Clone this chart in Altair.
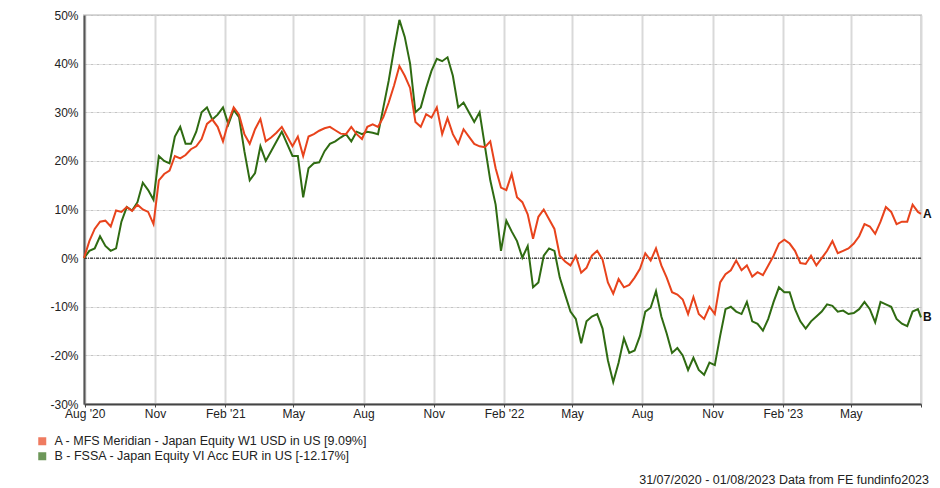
import json
import altair as alt
import pandas as pd

# ---------------- data ----------------
week_dates = list(pd.date_range("2020-07-31", periods=157, freq="7D").strftime("%Y-%m-%d")) + ["2023-08-01"]

series_a = [
    0.0, 3.5, 6.0, 7.5, 7.7, 6.5, 9.8, 9.5, 10.5, 9.7,
    11.0, 10.0, 9.5, 7.0, 16.0, 17.3, 18.0, 21.0, 20.5, 21.2,
    22.4, 23.0, 24.5, 27.6, 28.5, 27.0, 24.0, 28.0, 31.0, 29.5,
    25.5, 23.5, 26.5, 28.6, 24.0, 24.8, 25.8, 27.0, 25.0, 23.0,
    25.0, 21.0, 25.0, 25.5, 26.2, 26.7, 27.0, 26.3, 25.6, 25.5,
    27.0, 25.5, 24.5, 27.0, 27.5, 27.0, 29.0, 32.0, 35.5, 39.5,
    37.5, 35.0, 28.0, 27.0, 29.6, 28.9, 31.0, 25.5, 28.8, 25.5,
    23.5, 26.5, 25.0, 23.5, 23.0, 22.8, 24.0, 18.5, 14.5, 14.0,
    17.3, 12.5, 11.5, 9.0, 4.0, 8.5, 10.0, 8.0, 6.0, 0.5,
    -0.7, -1.5, 0.5, -3.0, -2.0, 0.5, 1.5, -0.3, -5.0, -7.3,
    -4.3, -6.0, -5.5, -4.0, -2.2, 1.0, -0.5, 2.0, -1.5, -4.0,
    -7.0, -7.5, -8.5, -11.5, -8.0, -11.5, -12.5, -10.0, -11.5, -5.0,
    -3.3, -2.5, -0.5, -2.5, -1.5, -3.8, -2.9, -3.5, -1.5, 0.5,
    3.0, 3.8, 3.0, 1.5, -1.0, -1.2, 0.5, -1.5, 0.0, 1.5,
    3.5, 1.0, 1.5, 2.0, 3.0, 4.5, 7.0, 6.5, 5.0, 7.5,
    10.5, 9.5, 7.0, 7.5, 7.5, 11.0, 9.5, 9.09,
]

series_b = [
    0.0, 1.5, 2.0, 4.5, 2.5, 1.5, 2.0, 7.5, 10.5, 9.8,
    11.5, 15.5, 14.0, 12.0, 21.0, 20.0, 19.5, 25.0, 27.0, 23.5,
    23.5, 26.0, 30.0, 31.0, 28.5, 29.5, 31.0, 27.5, 30.5, 29.0,
    22.0, 16.0, 17.5, 23.0, 20.0, 22.0, 24.0, 26.0, 23.5, 21.0,
    21.0, 12.5, 18.5, 19.5, 19.7, 22.0, 23.5, 24.0, 24.8, 25.5,
    24.0, 26.0, 25.5, 26.0, 25.8, 25.5, 31.0, 36.5, 43.0, 49.0,
    45.5, 40.0, 30.0, 31.0, 35.0, 38.5, 41.0, 40.5, 41.3, 37.5,
    31.0, 32.0, 30.0, 28.0, 30.0, 23.0, 16.0, 11.0, 1.5, 7.7,
    5.5, 3.5, 0.1, 2.5, -6.0, -5.0, 0.5, 2.0, 1.5, -4.0,
    -7.5, -11.0, -12.5, -17.5, -13.0, -12.0, -11.5, -14.5, -21.0, -25.5,
    -21.5, -16.5, -19.5, -19.0, -16.0, -11.0, -10.2, -6.8, -12.0, -15.5,
    -19.5, -18.5, -20.0, -23.0, -20.5, -23.0, -24.0, -21.5, -22.0, -16.0,
    -10.5, -10.0, -11.0, -11.5, -9.0, -13.0, -13.5, -14.9, -12.5, -9.0,
    -6.0, -7.0, -7.0, -10.5, -13.0, -14.5, -13.0, -12.0, -11.0, -9.5,
    -9.8, -11.0, -10.8, -11.5, -11.3, -10.5, -9.0, -10.5, -13.2, -9.0,
    -9.5, -10.0, -12.5, -13.5, -14.0, -11.0, -10.5, -12.17,
]

name_a = "A - MFS Meridian - Japan Equity W1 USD in US [9.09%]"
name_b = "B - FSSA - Japan Equity VI Acc EUR in US [-12.17%]"
end_tags = ["A", "B"]

x_tick_dates = ["2020-08-01", "2020-11-01", "2021-02-01", "2021-05-01", "2021-08-01",
                "2021-11-01", "2022-02-01", "2022-05-01", "2022-08-01", "2022-11-01",
                "2023-02-01", "2023-05-01", "2023-08-01"]
x_tick_labels = ["Aug '20", "Nov", "Feb '21", "May", "Aug", "Nov", "Feb '22",
                 "May", "Aug", "Nov", "Feb '23", "May", ""]
y_ticks = [-30, -20, -10, 0, 10, 20, 30, 40, 50]
footnote = "31/07/2020 - 01/08/2023 Data from FE fundinfo2023"

color_a = "#e8431c"
color_b = "#2f6b12"
FONT = "Liberation Sans"
PLOT_W = 837

# ---------------- tables ----------------
def ms(d):
    return int(pd.Timestamp(d, tz="UTC").value // 10**6)

df_a = pd.DataFrame({"date": week_dates, "value": series_a, "series": name_a})
df_b = pd.DataFrame({"date": week_dates, "value": series_b, "series": name_b})
df_end = pd.DataFrame({
    "date": [week_dates[-1], week_dates[-1]],
    "value": [series_a[-1], series_b[-1]],
    "series": [name_a, name_b],
    "tag": end_tags,
})
df_note = pd.DataFrame({"note": [footnote]})

tick_ms = [ms(d) for d in x_tick_dates]
label_expr = f"{json.dumps(x_tick_labels)}[indexof({json.dumps(tick_ms)}, toNumber(datum.value))]"

x_enc = alt.X(
    "date:T",
    scale=alt.Scale(type="utc", domain=[ms(week_dates[0]), ms(week_dates[-1])]),
    axis=alt.Axis(
        title=None, values=tick_ms, labelExpr=label_expr,
        grid=True, gridColor="#d9d9d9", gridWidth=2,
        domainColor="#444444", domainWidth=2,
        tickColor="#444444", tickSize=3, tickWidth=1,
        labelPadding=1, labelFontSize=12, labelFont=FONT, labelColor="#222222",
        labelOverlap=False, labelFlush=False,
    ),
)
y_enc = alt.Y(
    "value:Q",
    scale=alt.Scale(domain=[-30, 50], nice=False, zero=False),
    axis=alt.Axis(
        title=None, values=y_ticks, labelExpr="datum.value + '%'",
        grid=True, gridColor="#c4c4c4", gridWidth=1, gridDash=[3, 1, 1, 1],
        domainColor="#555555", domainWidth=2, ticks=False,
        labelPadding=6, labelFontSize=12, labelFont=FONT, labelColor="#222222",
    ),
)
color_scale = alt.Scale(domain=[name_a, name_b], range=[color_a, color_b])
legend_def = alt.Legend(
    title=None, orient="none", legendX=-48, legendY=420, direction="vertical",
    symbolType="square", symbolSize=64, symbolStrokeWidth=0,
    labelFontSize=12.5, labelFont=FONT, labelColor="#222222", labelLimit=0,
    labelOffset=6, rowPadding=2, padding=0,
)
color_enc = alt.Color("series:N", scale=color_scale, legend=legend_def)

line_b = alt.Chart(df_b).mark_line(strokeWidth=2).encode(x=x_enc, y=y_enc, color=color_enc)
line_a = alt.Chart(df_a).mark_line(strokeWidth=2).encode(x=x_enc, y=y_enc, color=color_enc)
zero_rule = alt.Chart(df_note).mark_rule(color="#000000", strokeWidth=1, strokeDash=[3, 1, 1, 1]).encode(
    y=alt.datum(0)
)
legend_pts = alt.Chart(df_end).mark_point(filled=True, shape="square", size=0).encode(
    x=x_enc, y=y_enc, color=color_enc,
)
end_text = alt.Chart(df_end).mark_text(
    align="left", baseline="middle", dx=2, fontSize=12, fontWeight="bold", font=FONT, color="#111111"
).encode(x=x_enc, y=y_enc, text="tag:N")
note_text = alt.Chart(df_note).mark_text(
    align="right", baseline="middle", fontSize=12.5, font=FONT, color="#222222"
).encode(x=alt.value(PLOT_W + 8), y=alt.value(465), text="note:N")

chart = alt.layer(zero_rule, line_b, line_a, legend_pts, end_text, note_text).properties(
    width=PLOT_W, height=389,
    autosize=alt.AutoSizeParams(type="none"),
    padding={"left": 76, "top": 7, "right": 924 - 76 - PLOT_W, "bottom": 86},
    background="white",
).configure_view(stroke="#d9d9d9", strokeWidth=2)

chart.save("out.html", embed_options={"renderer": "svg", "actions": False})
